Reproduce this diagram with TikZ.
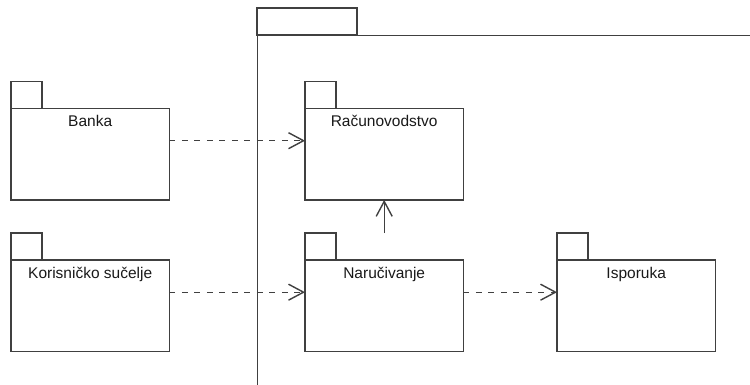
\documentclass[tikz,border=0pt]{standalone}
\usepackage{fontspec}
\setmainfont{Liberation Sans}
\usetikzlibrary{arrows.meta,calc}

\begin{document}
\begin{tikzpicture}[x=1pt,y=-1pt,
  line width=1.4pt,
  pkg/.style={rectangle,inner sep=0pt,minimum width=157pt,minimum height=117pt,anchor=north west},
  pkgline/.style={draw=black!75},
  pkgtext/.style={anchor=base,yshift=-18.5pt,font=\fontsize{15.5}{18}\selectfont,text=black!90},
  dep/.style={draw=black!75,dash pattern=on 6pt off 6.5pt,-{Straight Barb[length=15pt,width=16pt]}},
  imp/.style={draw=black!75,-{Straight Barb[length=15pt,width=16pt]}}]
  \useasboundingbox (0,0) rectangle (750,385);
  % system package, runs off the page
  \node[rectangle,inner sep=0pt,minimum width=520pt,minimum height=380pt,anchor=north west,pkgline] (sys) at (257,35) {};
  \draw[pkgline] (sys.north west) rectangle ++(100,-27);
  % packages
  \node[pkg] (banka) at (11,81.5) {};
  \node[pkg] (korisnik) at (11,233) {};
  \node[pkg] (racun) at (305,81.5) {};
  \node[pkg] (naru) at (305,233) {};
  \node[pkg] (isporuka) at (557,233) {};
  \foreach \n/\t in {banka/Banka,korisnik/Korisničko sučelje,racun/Računovodstvo,naru/Naručivanje,isporuka/Isporuka} {
    \draw[pkgline] ($(\n.north west)+(0,27)$) rectangle (\n.south east);
    \draw[pkgline] (\n.north west) rectangle ++(31,27);
    \node[pkgtext] (\n-txt) at ($(\n.north)+(0,27)$) {\t};
  }
  % dependencies
  \draw[dep] (banka.east) -- (racun.west);
  \draw[dep] (korisnik.east) -- (naru.west);
  \draw[dep] (naru.east) -- (isporuka.west);
  \draw[imp] (naru.north) -- (racun.south);
\end{tikzpicture}
\end{document}
